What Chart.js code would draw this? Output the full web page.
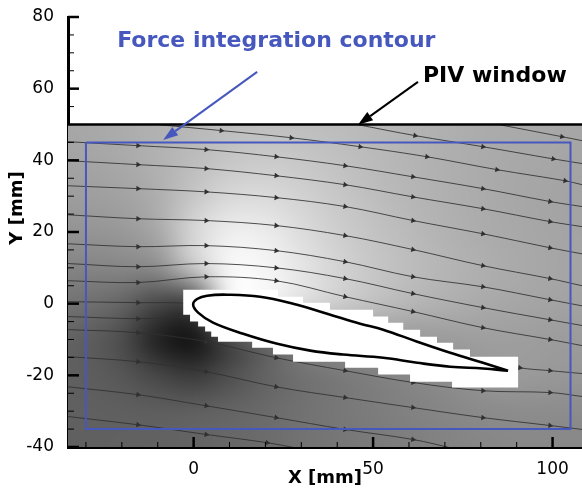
<!DOCTYPE html>
<html><head><meta charset="utf-8">
<script src="https://cdn.jsdelivr.net/npm/chart.js@4.4.1/dist/chart.umd.min.js"></script>
<style>html,body{margin:0;padding:0;background:#fff;}canvas{display:block;}</style>
</head><body>
<canvas id="c" width="582" height="491"></canvas>
<script>
// ---------- axis ticks ----------
const xMajorTicks = [0, 50, 100];
const xMinorTicks = [-30, -20, -10, 10, 20, 30, 40, 60, 70, 80, 90];
const yMajorTicks = [-40, -20, 0, 20, 40, 60, 80];
const yMinorTicks = [-35, -30, -25, -15, -10, -5, 5, 10, 15, 25, 30, 35, 45, 50, 55, 65, 70, 75];

// ---------- PIV window & force contour (mm) ----------
const pivWindowX = [-35, 108.2];
const pivWindowY = [-40, 50];
const contourX = [-30, 105, 105, -30, -30];
const contourY = [45, 45, -35, -35, 45];

// ---------- background field (grey level 0..255) sampled every 10 mm ----------
const fieldX = [-40, -30, -20, -10, 0, 10, 20, 30, 40, 50, 60, 70, 80, 90, 100, 110];
const fieldY = [50, 40, 30, 20, 10, 0, -10, -20, -30, -40];
const greyY50  = [166,168,172,178,184,189,191,190,188,184,180,176,172,170,168,166];
const greyY40  = [162,164,169,177,188,198,202,199,193,186,180,175,171,168,166,164];
const greyY30  = [156,158,162,174,198,216,218,210,199,190,182,176,171,167,164,162];
const greyY20  = [146,148,152,168,215,238,236,220,206,195,186,178,172,168,165,163];
const greyY10  = [132,132,134,140,200,248,246,230,212,199,189,181,175,170,166,164];
const greyY0   = [116,112,100, 70, 70,235,240,222,206,193,183,176,170,166,163,161];
const greyYm10 = [100, 94, 76, 32, 18, 70,105,135,148,150,152,155,158,158,156,155];
const greyYm20 = [ 96, 94, 86, 70, 58, 78, 98,112,120,127,134,140,150,155,152,150];
const greyYm30 = [ 96, 96, 95, 94, 96,100,106,113,119,124,129,134,138,140,140,140];
const greyYm40 = [ 96, 96, 97, 98,100,104,108,114,118,122,126,130,134,136,136,136];
const fieldRows = [greyY50, greyY40, greyY30, greyY20, greyY10, greyY0, greyYm10, greyYm20, greyYm30, greyYm40];

// ---------- streamlines [X, Y] in mm ----------
const streamT0 = [[-9.3,49.9],[7.7,48.3],[27.2,46.3],[46.4,43.8],[65.0,41.0],[84.5,37.4],[103.5,34.3],[108.2,33.2]];
const streamT1 = [[45.5,50],[61.7,46.9],[80.6,43.8],[100.2,40.4],[108.2,39.1]];
const streamT2 = [[85.4,49.9],[102.6,46.6],[108.2,45.5]];
const streamA = [[-35,45.2],[-15.5,44.1],[3.5,43.0],[23,41.0],[42.2,38.5],[61.1,35.4],[80.6,32.1],[99.3,28.5],[108.2,27.1]];
const streamB = [[-35,39.9],[-15.5,38.8],[3.5,37.7],[23,35.7],[42.2,33.2],[61.1,29.8],[80.6,26.5],[99.3,22.9],[108.2,21.5]];
const streamC = [[-35,32.9],[-15.5,32.1],[3.5,31.2],[23,29.6],[42.2,27.1],[61.1,23.2],[80.6,19.5],[99.3,15.6],[108.2,13.9]];
const streamD = [[-35,24.8],[-15.5,23.7],[3.5,23.2],[23,21.8],[42.2,19.0],[61.1,15.1],[80.6,10.6],[99.3,7.0],[108.2,5.0]];
const streamE = [[-35,16.7],[-15.5,15.9],[3.5,16.2],[23,14.8],[42.2,11.7],[61.1,7.5],[80.6,4.7],[99.3,1.1],[108.2,-0.6]];
const streamF = [[-35,11.2],[-15.5,10.3],[3.5,11.2],[23,10.0],[42.2,7.0],[61.1,2.8],[80.6,-1.1],[99.3,-4.5],[108.2,-6.1]];
const streamG = [[-35,6.4],[-15.5,5.9],[3.5,7.5],[23,6.4],[42.2,1.95],[61.1,-2.2],[80.6,-6.7],[99.3,-10.0],[108.2,-11.7]];
const streamH = [[-35,0.56],[-15.5,0.28],[-1.0,0],[18.5,-3.07],[43.6,-8.65],[71.4,-14.2],[90.9,-17.9],[99.3,-18.7],[108.2,-19.5]];
const streamI = [[-35,-3.6],[-15.5,-4.2],[0.7,-3.9],[18.5,-7.25],[43.6,-11.4],[71.4,-15.6],[86.8,-19.0]];
const streamJ = [[-35,-7.25],[-15.5,-8.1],[3.5,-10.6],[23,-15.1],[42.2,-18.7],[61.1,-22.0],[80.6,-24.3],[99.3,-24.8],[108.2,-25.9]];
const streamK = [[-35,-14.8],[-15.5,-16.2],[3.5,-19.0],[23,-23.2],[42.2,-26.2],[61.1,-29.0],[80.6,-31.8],[99.3,-34.0],[108.2,-35.1]];
const streamL = [[-35,-23.2],[-15.5,-25.4],[3.5,-28.5],[23,-31.8],[42.2,-35.1],[61.1,-37.9],[72.8,-40.5]];
const streamM = [[-35,-31.5],[-15.5,-33.8],[3.5,-36.5],[20.5,-38.8],[29.7,-40.5]];
const streamlines = [streamT0, streamT1, streamT2, streamA, streamB, streamC, streamD, streamE, streamF, streamG, streamH, streamI, streamJ, streamK, streamL, streamM];

// ---------- masked region around the airfoil (PIV mask) ----------
const maskOutline = [[-2.9,3.9],[23.5,3.9],[23.5,1.95],[30.5,1.95],[30.5,0.28],[38.0,0.28],[38.0,-1.67],[50.0,-1.67],[50.0,-3.6],[54.2,-3.6],[54.2,-5.3],[58.4,-5.3],[58.4,-7.25],[63.1,-7.25],[63.1,-9.2],[67.8,-9.2],[67.8,-10.9],[72.3,-10.9],[72.3,-12.8],[77.0,-12.8],[77.0,-14.8],[90.4,-14.8],[90.4,-23.4],[72.0,-23.4],[72.0,-21.8],[60.3,-21.8],[60.3,-19.8],[51.4,-19.8],[51.4,-17.9],[42.2,-17.9],[42.2,-16.2],[27.7,-16.2],[27.7,-14.2],[22.1,-14.2],[22.1,-12.3],[16.3,-12.3],[16.3,-10.6],[6.8,-10.6],[6.8,-9.2],[4.9,-9.2],[4.9,-7.8],[3.2,-7.8],[3.2,-6.4],[1.25,-6.4],[1.25,-5.0],[-1.0,-5.0],[-1.0,-3.07],[-2.9,-3.07],[-2.9,3.9]];

// ---------- airfoil contour (trailing edge -> upper -> leading edge -> lower -> trailing edge) ----------
const airfoil = [[87.6,-18.7],[80.6,-16.5],[71.5,-13.7],[62.3,-10.6],[52.8,-7.25],[46.4,-5.58],[37.2,-2.79],[27.7,0],[18.5,1.95],[9.33,2.5],[3.76,2.23],[0.97,1.3],[-0.14,-0.28],[1.25,-2.5],[5.4,-5.3],[13.8,-8.4],[23.3,-11.2],[32.5,-13.1],[41.6,-14.2],[52.8,-15.1],[62.3,-16.5],[71.5,-17.6],[80.6,-18.1],[87.6,-18.7]];

// ---------- annotations ----------
const noteForce = {text: 'Force integration contour', x: -21.3, y: 71.7, tail: [17.7, 64.7], tip: [-8.5, 45.7]};
const notePIV = {text: 'PIV window', x: 63.9, y: 61.9, tail: [62.5, 61.9], tip: [45.8, 49.9]};

// ---------- helpers ----------
const pts = a => a.map(([x, y]) => ({x, y}));
const BLUE = '#4657bd';
function arrowRot(ctx) {
  const d = ctx.dataset.data, i = ctx.dataIndex, ch = ctx.chart;
  const xs = ch.scales.x, ys = ch.scales.y;
  if (!xs || !ys) return 0;
  const a = d[Math.max(0, i - 1)], b = d[Math.min(d.length - 1, i + 1)];
  const dx = xs.getPixelForValue(b.x) - xs.getPixelForValue(a.x);
  const dy = ys.getPixelForValue(b.y) - ys.getPixelForValue(a.y);
  return Math.atan2(dy, dx) * 180 / Math.PI + 90;
}
function arrowRadius(ctx) {
  const n = ctx.dataset.data.length;
  return (ctx.dataIndex === 0 || ctx.dataIndex === n - 1) ? 0 : 3.2;
}

const datasets = [];
streamlines.forEach(s => datasets.push({
  data: pts(s), showLine: true, borderColor: 'rgba(48,48,48,0.85)', borderWidth: 1, tension: 0.35,
  pointStyle: 'triangle', pointRadius: arrowRadius, pointRotation: arrowRot,
  pointBackgroundColor: '#303030', pointBorderColor: '#303030', pointBorderWidth: 0, fill: false, order: 10
}));
datasets.push({data: pts(maskOutline), showLine: true, fill: 'shape', backgroundColor: '#ffffff', borderColor: '#ffffff', borderWidth: 0, pointRadius: 0, tension: 0, order: 5});
datasets.push({data: pts(airfoil), showLine: true, fill: false, borderColor: '#000', borderWidth: 2.6, pointRadius: 0, tension: 0.4, order: 4});
datasets.push({data: pts(contourX.map((x, i) => [x, contourY[i]])), showLine: true, fill: false, borderColor: BLUE, borderWidth: 2, pointRadius: 0, tension: 0, order: 3});
datasets.push({data: pts([[pivWindowX[0], pivWindowY[1]], [pivWindowX[1], pivWindowY[1]]]), showLine: true, fill: false, borderColor: '#000', borderWidth: 2.6, pointRadius: 0, tension: 0, order: 2});

const fieldPlugin = {
  id: 'field',
  beforeDraw(chart) {
    const c = chart.ctx; c.save(); c.fillStyle = '#fff'; c.fillRect(0, 0, chart.width, chart.height); c.restore();
  },
  beforeDatasetsDraw(chart) {
    const {ctx, scales: {x, y}} = chart;
    const cols = fieldX.length, rows = fieldY.length;
    const off = document.createElement('canvas'); off.width = cols; off.height = rows;
    const octx = off.getContext('2d');
    const img = octx.createImageData(cols, rows);
    fieldRows.forEach((row, j) => row.forEach((v, i) => {
      const k = (j * cols + i) * 4; img.data[k] = img.data[k + 1] = img.data[k + 2] = v; img.data[k + 3] = 255;
    }));
    octx.putImageData(img, 0, 0);
    const hx = (fieldX[1] - fieldX[0]) / 2, hy = (fieldY[0] - fieldY[1]) / 2;
    const L = x.getPixelForValue(fieldX[0] - hx), R = x.getPixelForValue(fieldX[cols - 1] + hx);
    const T = y.getPixelForValue(fieldY[0] + hy), B = y.getPixelForValue(fieldY[rows - 1] - hy);
    const wl = x.getPixelForValue(pivWindowX[0]), wr = x.getPixelForValue(pivWindowX[1]);
    const wt = y.getPixelForValue(pivWindowY[1]), wb = y.getPixelForValue(pivWindowY[0]);
    ctx.save();
    ctx.beginPath(); ctx.rect(wl, wt, wr - wl, wb - wt); ctx.clip();
    ctx.imageSmoothingEnabled = true; ctx.imageSmoothingQuality = 'high';
    ctx.drawImage(off, L, T, R - L, B - T);
    ctx.restore();
  },
  afterDraw(chart) {
    const {ctx, scales: {x, y}, chartArea: ca} = chart;
    ctx.save();
    ctx.strokeStyle = '#000';
    const tick = (x1, y1, x2, y2, w) => { ctx.lineWidth = w; ctx.beginPath(); ctx.moveTo(x1, y1); ctx.lineTo(x2, y2); ctx.stroke(); };
    yMajorTicks.forEach(v => { const p = y.getPixelForValue(v); tick(ca.left, p, ca.left + 11, p, 2.5); });
    yMinorTicks.forEach(v => { const p = y.getPixelForValue(v); tick(ca.left, p, ca.left + 6, p, 1); });
    xMajorTicks.forEach(v => { const p = x.getPixelForValue(v); tick(p, ca.bottom, p, ca.bottom - 10, 2.5); });
    xMinorTicks.forEach(v => { const p = x.getPixelForValue(v); tick(p, ca.bottom, p, ca.bottom - 5, 1); });
    const arrow = (note, color) => {
      const x1 = x.getPixelForValue(note.tail[0]), y1 = y.getPixelForValue(note.tail[1]);
      const x2 = x.getPixelForValue(note.tip[0]), y2 = y.getPixelForValue(note.tip[1]);
      const ang = Math.atan2(y2 - y1, x2 - x1), len = 15, hw = 5;
      const bx = x2 - len * Math.cos(ang), by = y2 - len * Math.sin(ang);
      ctx.strokeStyle = color; ctx.fillStyle = color; ctx.lineWidth = 2;
      ctx.beginPath(); ctx.moveTo(x1, y1); ctx.lineTo(bx, by); ctx.stroke();
      ctx.beginPath(); ctx.moveTo(x2, y2);
      ctx.lineTo(bx + hw * Math.sin(ang), by - hw * Math.cos(ang));
      ctx.lineTo(bx - hw * Math.sin(ang), by + hw * Math.cos(ang));
      ctx.closePath(); ctx.fill();
    };
    arrow(noteForce, BLUE);
    arrow(notePIV, '#000');
    ctx.font = 'bold 22px "DejaVu Sans"';
    ctx.textAlign = 'left'; ctx.textBaseline = 'alphabetic';
    ctx.fillStyle = BLUE;
    ctx.fillText(noteForce.text, x.getPixelForValue(noteForce.x), y.getPixelForValue(noteForce.y));
    ctx.fillStyle = '#000';
    ctx.fillText(notePIV.text, x.getPixelForValue(notePIV.x), y.getPixelForValue(notePIV.y));
    ctx.translate(22, 208); ctx.rotate(-Math.PI / 2);
    ctx.font = 'bold 18px "DejaVu Sans"'; ctx.textAlign = 'center';
    ctx.fillText('Y [mm]', 0, 0);
    ctx.restore();
  }
};

new Chart(document.getElementById('c'), {
  type: 'scatter',
  data: {datasets},
  options: {
    responsive: false, animation: false, events: [],
    layout: {padding: {top: 17, right: 0, left: 0, bottom: 0}},
    plugins: {legend: {display: false}, tooltip: {enabled: false}},
    scales: {
      x: {
        type: 'linear', min: pivWindowX[0], max: pivWindowX[1], z: 1,
        grid: {display: false}, border: {display: true, color: '#000', width: 3},
        afterBuildTicks: s => { s.ticks = xMajorTicks.map(v => ({value: v})); },
        afterFit: s => { s.height = 44; },
        ticks: {color: '#000', padding: 4, autoSkip: false, maxRotation: 0, font: {family: 'DejaVu Sans', size: 17}},
        title: {display: true, text: 'X [mm]', color: '#000', font: {family: 'DejaVu Sans', size: 18, weight: 'bold'}, padding: {top: 0, bottom: 2}}
      },
      y: {
        type: 'linear', min: -40, max: 80, z: 1,
        grid: {display: false}, border: {display: true, color: '#000', width: 3},
        afterBuildTicks: s => { s.ticks = yMajorTicks.map(v => ({value: v})); },
        afterFit: s => { s.width = 68; },
        ticks: {color: '#000', padding: 6, autoSkip: false, font: {family: 'DejaVu Sans', size: 17}}
      }
    }
  },
  plugins: [fieldPlugin]
});
</script>
</body></html>
